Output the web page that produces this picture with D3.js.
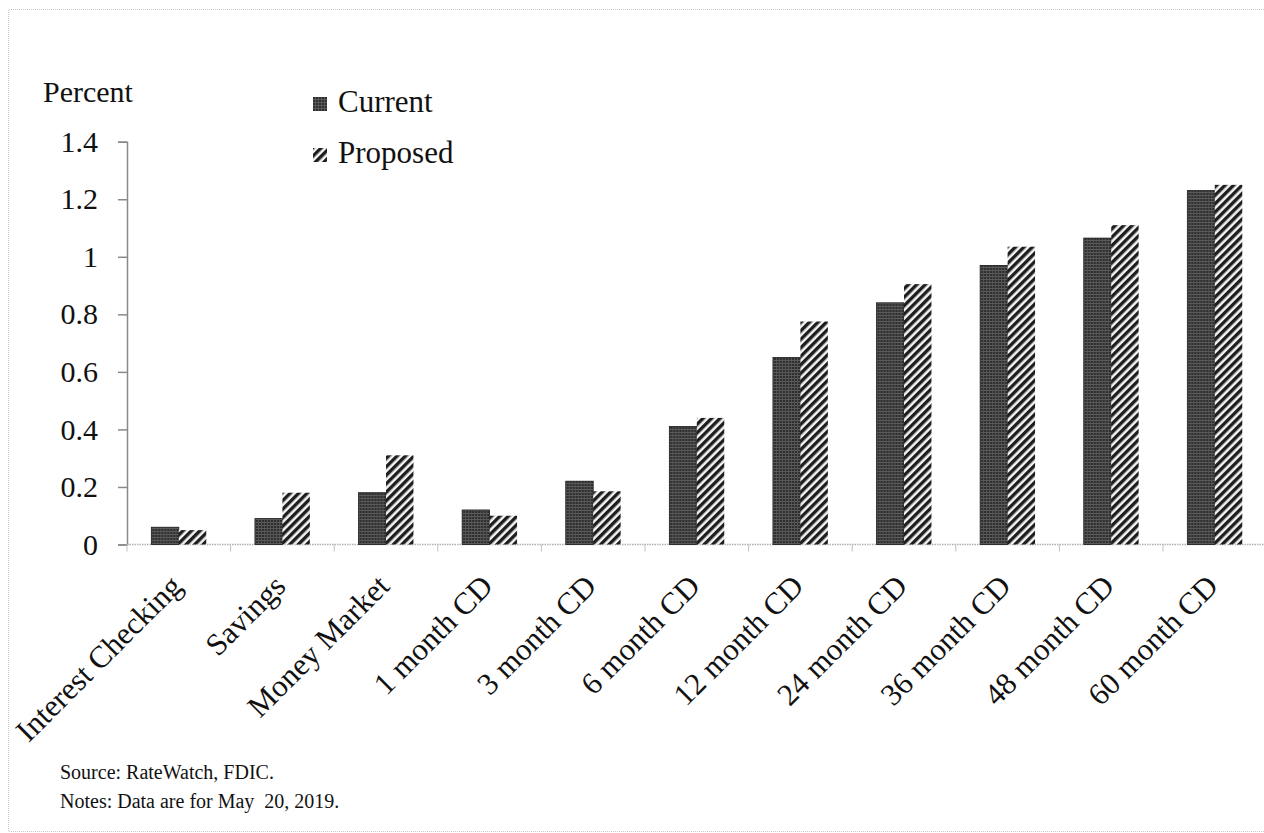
<!DOCTYPE html>
<html>
<head>
<meta charset="utf-8">
<script src="https://cdn.jsdelivr.net/npm/d3@7"></script>
<style>
  html, body { margin: 0; padding: 0; background: #fff; }
  svg { display: block; }
  svg text { font-family: "Liberation Serif", "Times New Roman", serif !important; }
</style>
</head>
<body>
<svg id="chart" width="1264" height="833"></svg>
<script>
const categories = ["Interest Checking", "Savings", "Money Market", "1 month CD", "3 month CD",
  "6 month CD", "12 month CD", "24 month CD", "36 month CD", "48 month CD", "60 month CD"];
const currentValues  = [0.06, 0.09, 0.18, 0.12, 0.22, 0.41, 0.65, 0.84, 0.97, 1.065, 1.23];
const proposedValues = [0.05, 0.18, 0.31, 0.10, 0.185, 0.44, 0.775, 0.905, 1.035, 1.11, 1.25];
const seriesNames = ["Current", "Proposed"];
const yTicks = [0, 0.2, 0.4, 0.6, 0.8, 1, 1.2, 1.4];
const sourceLines = ["Source: RateWatch, FDIC.", "Notes: Data are for May\u00a0 20, 2019."];

const FONT = "'Liberation Serif', 'Times New Roman', serif";
const svg = d3.select("#chart");

// border
svg.append("path")
  .attr("d", "M1264,9.5 H8.5 V831.5 H1264")
  .attr("fill", "none").attr("stroke", "#c8c8c8").attr("stroke-width", 1)
  .attr("stroke-dasharray", "1,1");

// patterns
const defs = svg.append("defs");
const pc = defs.append("pattern").attr("id", "pCurrent").attr("patternUnits", "userSpaceOnUse")
  .attr("width", 3).attr("height", 3);
pc.append("rect").attr("width", 3).attr("height", 3).attr("fill", "#2e2e2e");
pc.append("rect").attr("width", 3).attr("height", 1).attr("fill", "#5c5c5c");
pc.append("rect").attr("width", 1).attr("height", 3).attr("fill", "#555");

const pp = defs.append("pattern").attr("id", "pProposed").attr("patternUnits", "userSpaceOnUse")
  .attr("width", 6).attr("height", 6).attr("patternTransform", "rotate(45)");
pp.append("rect").attr("width", 6).attr("height", 6).attr("fill", "#f4f4f4");
pp.append("rect").attr("width", 3.4).attr("height", 6).attr("fill", "#1e1e1e");

const fills = {Current: "url(#pCurrent)", Proposed: "url(#pProposed)"};

const x0 = d3.scaleBand().domain(categories).range([127, 1266.6]).paddingInner(0.47).paddingOuter(0.235);
const x1 = d3.scaleBand().domain(seriesNames).range([0, x0.bandwidth()]);
const y = d3.scaleLinear().domain([0, 1.4]).range([544.5, 141.7]);

// y axis
const yAxis = svg.append("g").attr("transform", "translate(127,0)")
  .call(d3.axisLeft(y).tickValues(yTicks).tickFormat(d => String(+d.toFixed(1))).tickSize(9).tickPadding(20));
yAxis.attr("font-family", FONT);
yAxis.select(".domain").attr("stroke", "#8a8a8a").attr("stroke-width", 1.5);
yAxis.selectAll(".tick line").attr("stroke", "#8a8a8a").attr("stroke-width", 1.5);
yAxis.selectAll(".tick text").attr("font-size", 30).attr("fill", "#111").style("font-family", FONT);

// x axis baseline with boundary ticks
const xg = svg.append("g");
xg.append("line").attr("x1", 127).attr("x2", 1264).attr("y1", y(0)).attr("y2", y(0))
  .attr("stroke", "#b0b0b0").attr("stroke-width", 1.5).attr("stroke-dasharray", "1.5,1");
const bounds = categories.map(c => x0(c) - x0.step() * x0.paddingInner() / 2);
xg.selectAll(".bt").data(bounds).join("line")
  .attr("x1", d => d).attr("x2", d => d).attr("y1", y(0)).attr("y2", y(0) + 7)
  .attr("stroke", "#c0c0c0").attr("stroke-width", 1);

// bars
const data = categories.map((c, i) => ({cat: c, vals: [
  {s: "Current", v: currentValues[i]}, {s: "Proposed", v: proposedValues[i]}]}));
const groups = svg.append("g").selectAll("g").data(data).join("g")
  .attr("transform", d => `translate(${x0(d.cat)},0)`);
groups.selectAll("rect").data(d => d.vals).join("rect")
  .attr("x", d => x1(d.s)).attr("width", x1.bandwidth())
  .attr("y", d => y(d.v)).attr("height", d => y(0) - y(d.v))
  .attr("fill", d => fills[d.s])
  .attr("stroke", d => d.s === "Current" ? "#1a1a1a" : "none").attr("stroke-width", 0.8);

// category labels
svg.append("g").selectAll("text").data(categories).join("text")
  .attr("transform", d => `translate(${x0(d) + x0.bandwidth() / 2 + 5},588) rotate(-45)`)
  .attr("text-anchor", "end").attr("font-size", 31).attr("fill", "#111")
  .style("font-family", FONT)
  .text(d => d);

// axis title
svg.append("text").attr("x", 43).attr("y", 102).attr("font-size", 30).attr("fill", "#111")
  .style("font-family", FONT).text("Percent");

// legend
const leg = svg.append("g");
seriesNames.forEach((s, i) => {
  const yy = 97 + i * 51;
  leg.append("rect").attr("x", 313).attr("y", yy).attr("width", 14).attr("height", 14)
    .attr("fill", fills[s]);
  leg.append("text").attr("x", 338).attr("y", yy + 15).attr("font-size", 31).attr("fill", "#111")
    .style("font-family", FONT).text(s);
});

// source notes
svg.append("g").selectAll("text").data(sourceLines).join("text")
  .attr("x", 60).attr("y", (d, i) => 779 + i * 29)
  .attr("font-size", 20).attr("fill", "#111")
  .style("font-family", FONT).text(d => d);
</script>
</body>
</html>
